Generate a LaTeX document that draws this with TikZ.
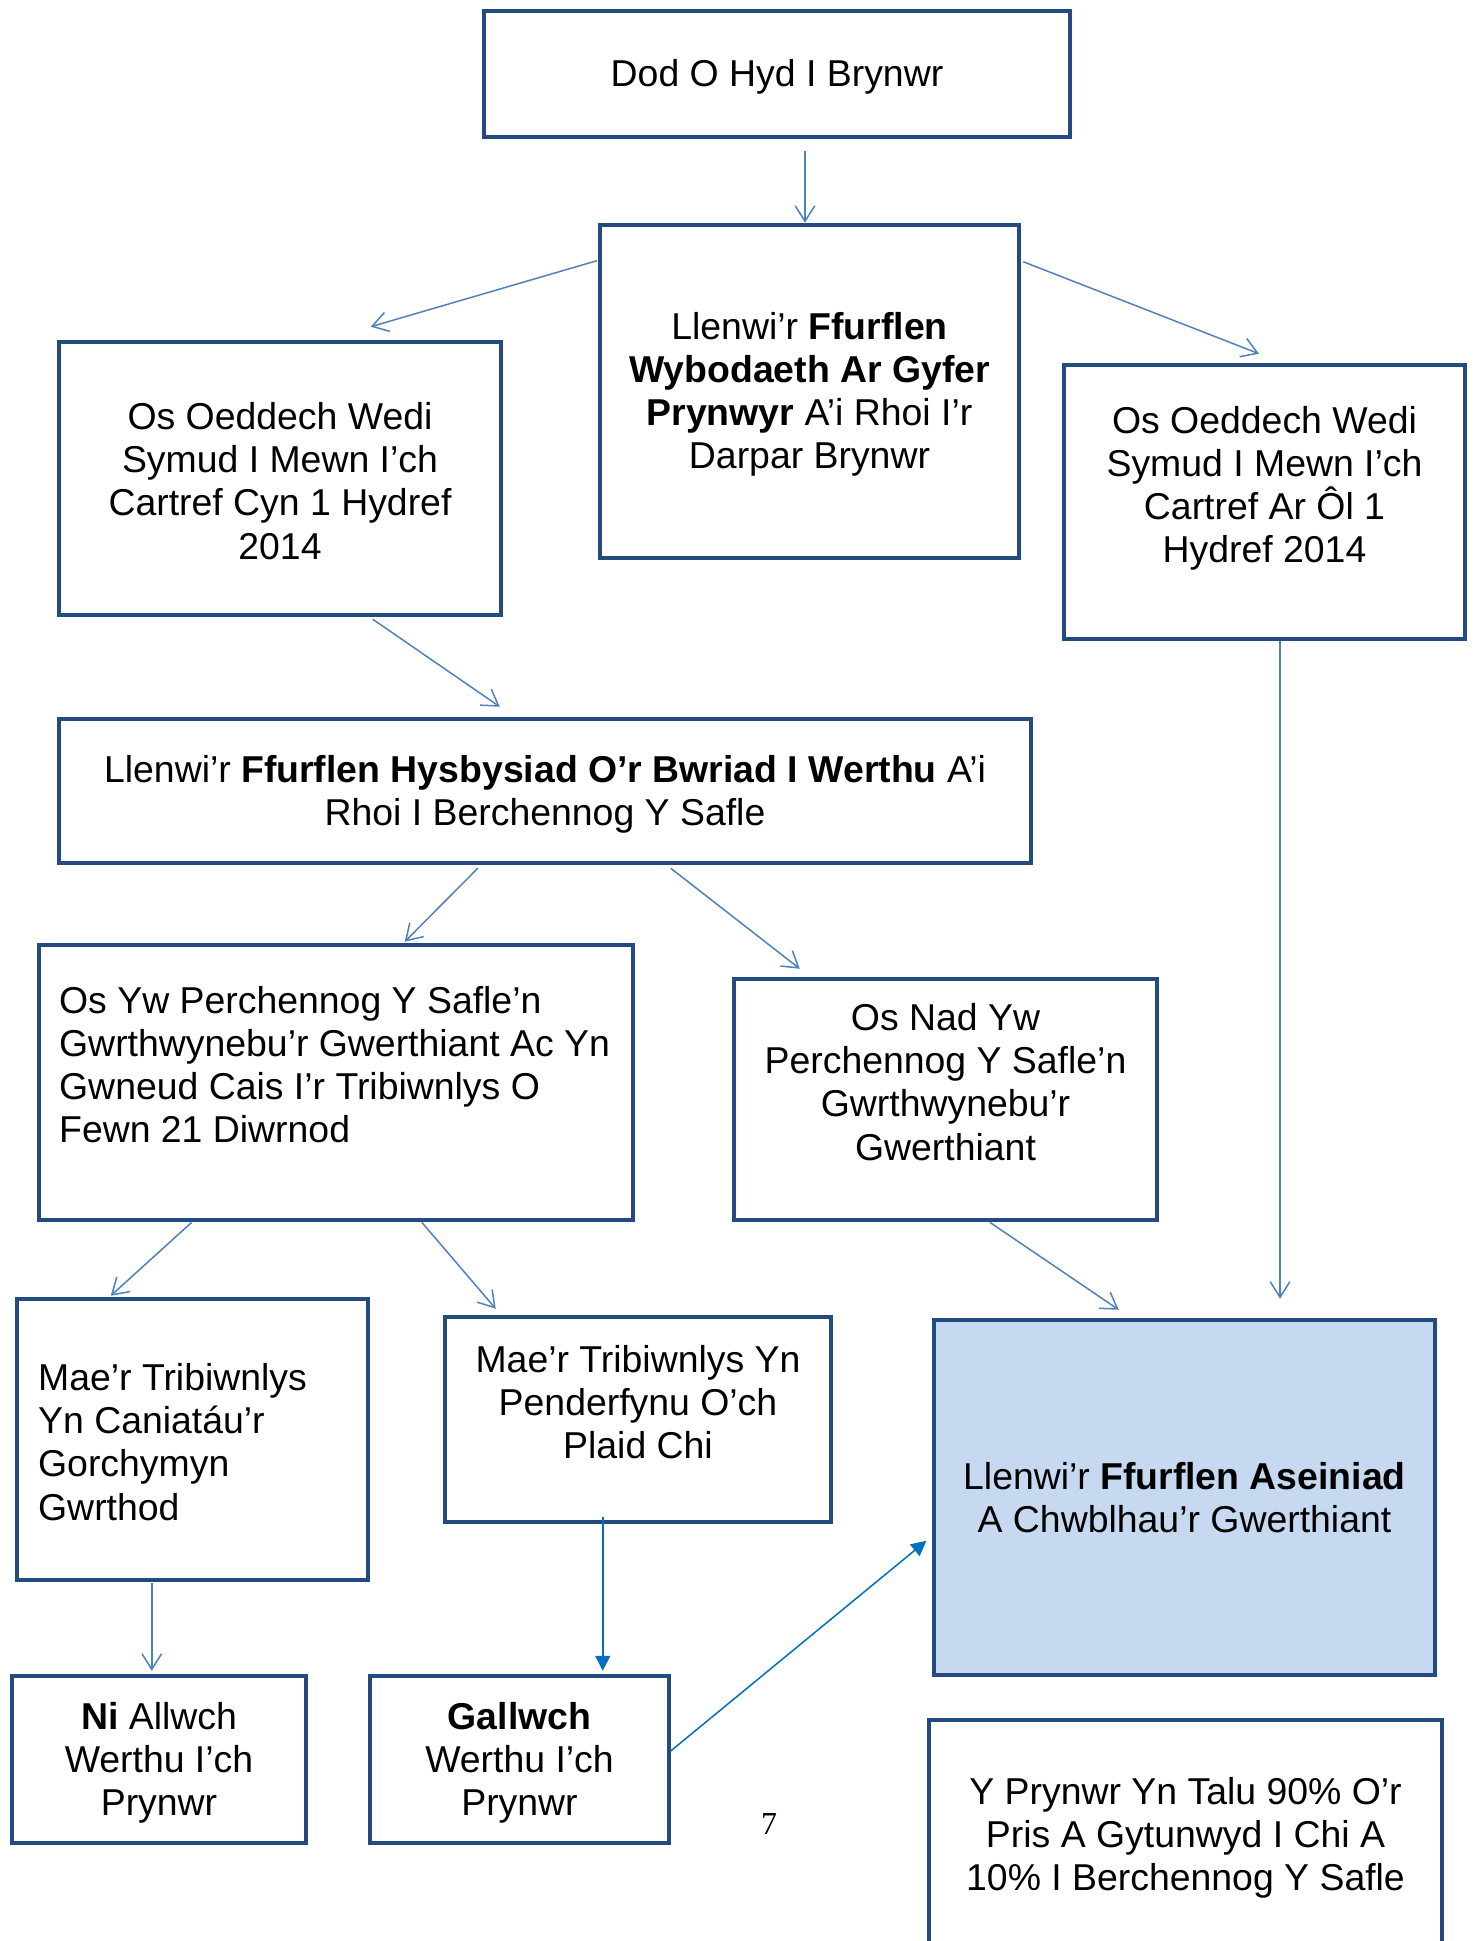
\documentclass[tikz,border=0pt]{standalone}
\usepackage{fontspec}
\setmainfont{Liberation Sans}
\newfontfamily\pagefont{Liberation Serif}
\usetikzlibrary{arrows.meta}

\definecolor{boxblue}{HTML}{234B80}
\definecolor{linkblue}{HTML}{4F81BD}
\definecolor{darkarrow}{HTML}{0070C0}
\definecolor{formfill}{HTML}{C6D9F0}

\newcommand{\flowfont}{\fontsize{18.7pt}{21.6pt}\selectfont}

\begin{document}
\begin{tikzpicture}[x=1pt,y=-1pt,
  box/.style={draw=boxblue,line width=2.25pt,fill=white,inner sep=0pt},
  txt/.style={inner sep=0pt,align=center,font=\flowfont},
  link/.style={draw=linkblue,line width=0.75pt,-{Straight Barb[length=7.8pt,width=9.8pt]}},
  solidlink/.style={draw=darkarrow,line width=0.75pt,-{Triangle[length=7.5pt,width=7.5pt]}}]
  \path[use as bounding box,clip] (0,0) rectangle (738.5,970.5);
  \fill[white] (0,0) rectangle (738.5,970.5);

  % top: finding a buyer and the buyer info form
  \node[box,minimum width=293pt,minimum height=63pt] (brynwr) at (388.5,37) {};
  \node[txt] (brynwr-t) at ([yshift=-1.6pt]brynwr.center) {Dod O Hyd I Brynwr};
  \node[box,minimum width=209.5pt,minimum height=166.5pt] (wybod) at (404.75,195.75) {};
  \node[txt] (wybod-t) at ([yshift=-1.4pt]wybod.center)
    {Llenwi’r \textbf{Ffurflen}\\\textbf{Wybodaeth Ar Gyfer}\\\textbf{Prynwyr} A’i Rhoi I’r\\Darpar Brynwr};
  \node[box,minimum width=221pt,minimum height=136.5pt] (cyn) at (140,239.25) {};
  \node[txt] (cyn-t) at ([yshift=-1.2pt]cyn.center)
    {Os Oeddech Wedi\\Symud I Mewn I’ch\\Cartref Cyn 1 Hydref\\2014};
  \node[box,minimum width=200.5pt,minimum height=137pt] (arol) at (632.25,251) {};
  \node[txt] (arol-t) at ([yshift=6.8pt]arol.center)
    {Os Oeddech Wedi\\Symud I Mewn I’ch\\Cartref Ar Ôl 1\\Hydref 2014};

  % notice of intention to sell
  \node[box,minimum width=486pt,minimum height=72pt] (hysb) at (272.5,395.5) {};
  \node[txt] (hysb-t) at ([yshift=-1.8pt]hysb.center)
    {Llenwi’r \textbf{Ffurflen Hysbysiad O’r Bwriad I Werthu} A’i\\Rhoi I Berchennog Y Safle};

  % site owner objects or not
  \node[box,minimum width=297pt,minimum height=137.5pt] (osyw) at (168,541.25) {};
  \node[txt,align=left,anchor=west] (osyw-t) at ([shift={(11,-8.9)}]osyw.west)
    {Os Yw Perchennog Y Safle’n\\Gwrthwynebu’r Gwerthiant Ac Yn\\Gwneud Cais I’r Tribiwnlys O\\Fewn 21 Diwrnod};
  \node[box,minimum width=211.5pt,minimum height=120.5pt] (osnad) at (472.75,549.75) {};
  \node[txt] (osnad-t) at ([yshift=8.75pt]osnad.center)
    {Os Nad Yw\\Perchennog Y Safle’n\\Gwrthwynebu’r\\Gwerthiant};

  % tribunal outcome
  \node[box,minimum width=175.5pt,minimum height=140.5pt] (caniatau) at (96.25,719.75) {};
  \node[txt,align=left,anchor=west] (caniatau-t) at ([shift={(11.5,1.2)}]caniatau.west)
    {Mae’r Tribiwnlys\\Yn Caniatáu’r\\Gorchymyn\\Gwrthod};
  \node[box,minimum width=193pt,minimum height=102.5pt] (penderf) at (319,709.75) {};
  \node[txt] (penderf-t) at ([yshift=8.75pt]penderf.center)
    {Mae’r Tribiwnlys Yn\\Penderfynu O’ch\\Plaid Chi};
  \node[box,fill=formfill,minimum width=250.5pt,minimum height=177.5pt] (aseiniad) at (592.25,748.75) {};
  \node[txt] (aseiniad-t) at (aseiniad.center)
    {Llenwi’r \textbf{Ffurflen Aseiniad}\\A Chwblhau’r Gwerthiant};

  % bottom row
  \node[box,minimum width=147pt,minimum height=83.5pt] (niallwch) at (79.5,879.75) {};
  \node[txt] (niallwch-t) at ([yshift=-1.6pt]niallwch.center) {\textbf{Ni} Allwch\\Werthu I’ch\\Prynwr};
  \node[box,minimum width=149.5pt,minimum height=83.5pt] (gallwch) at (259.75,879.75) {};
  \node[txt] (gallwch-t) at ([yshift=-1.6pt]gallwch.center) {\textbf{Gallwch}\\Werthu I’ch\\Prynwr};
  \node[box,minimum width=256.5pt,minimum height=114.7pt] (talu) at (592.75,917.35) {};
  \node[txt] (talu-t) at ([yshift=-1.6pt]talu.center)
    {Y Prynwr Yn Talu 90\% O’r\\Pris A Gytunwyd I Chi A\\10\% I Berchennog Y Safle};
  \node[inner sep=0pt,font=\pagefont\fontsize{16pt}{19pt}\selectfont] (tudalen) at (384.5,912) {7};

  % connectors
  \draw[link] ([shift={(-2.25,-36)}]wybod.north) -- ([xshift=-2.25pt]wybod.north);
  \draw[link] ([shift={(-0.5,19)}]wybod.north west) -- ([shift={(157,-6.5)}]cyn.north west);
  \draw[link] ([shift={(1,19.5)}]wybod.north east) -- ([shift={(-2.75,-4.5)}]arol.north);
  \draw[link] ([shift={(158,1)}]cyn.south west) -- ([shift={(221.5,-5)}]hysb.north west);
  \draw[link] ([xshift=7.75pt]arol.south) -- ([shift={(47.75,-9.5)}]aseiniad.north);
  \draw[link] ([shift={(210.5,1.5)}]hysb.south west) -- ([shift={(184,-0.5)}]osyw.north west);
  \draw[link] ([shift={(307,1.5)}]hysb.south west) -- ([shift={(34,-4)}]osnad.north west);
  \draw[link] ([xshift=77.5pt]osyw.south west) -- ([shift={(48,-0.5)}]caniatau.north west);
  \draw[link] ([xshift=192.5pt]osyw.south west) -- ([shift={(26.5,-3)}]penderf.north west);
  \draw[link] ([xshift=129pt]osnad.south west) -- ([shift={(93.5,-4)}]aseiniad.north west);
  \draw[link] ([shift={(68.5,0.5)}]caniatau.south west) -- ([shift={(71,-1.5)}]niallwch.north west);
  \draw[solidlink] ([shift={(80,-3.5)}]penderf.south west) -- ([shift={(117.5,-1.5)}]gallwch.north west);
  \draw[solidlink] ([shift={(-0.5,38.8)}]gallwch.north east) -- ([shift={(-2.7,111.5)}]aseiniad.north west);
\end{tikzpicture}
\end{document}
